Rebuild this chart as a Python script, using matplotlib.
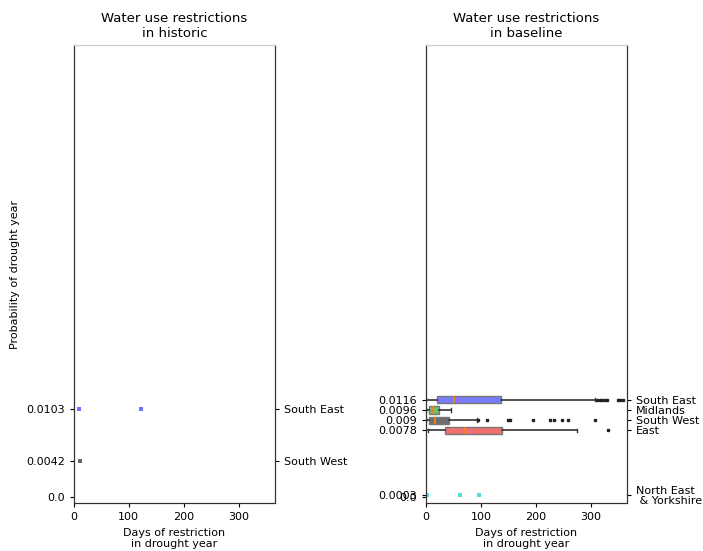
import numpy as np
import matplotlib.pyplot as plt

# historic panel
hist_regions = ['South East', 'South West']
hist_probs = [0.0103, 0.0042]
hist_days = [[10, 122], [12]]
hist_colors = ['#7070ff', '#666666']

# baseline panel (boxes drawn from summary stats)
base_regions = ['South East', 'Midlands', 'South West', 'East']
base_probs = ['0.0116', '0.0096', '0.009', '0.0078']
base_pos = [0.0114, 0.0102, 0.009, 0.0078]
base_colors = ['#7b7bff', '#6fbf6f', '#6e6e6e', '#f07070']
base_q1 = [20, 5, 6, 35]
base_med = [51, 13, 16, 71]
base_q3 = [137, 24, 42, 139]
base_lo = [0, 0, 0, 3]
base_hi = [307, 45, 93, 275]
base_fliers = [
    [312, 316, 320, 326, 330, 350, 354, 358],
    [],
    [95, 111, 150, 153, 195, 226, 233, 247, 258, 308],
    [332],
]

# North East & Yorkshire only has scattered points
ne_label = 'North East\n & Yorkshire'
ne_prob = '0.0003'
ne_pos = 0.0003
ne_days = [1, 62, 97]

ylims = (-0.0007, 0.0529)
xlims = (0, 366)

fig = plt.figure(figsize=(7.03, 5.51), dpi=100)
ax1 = fig.add_axes([0.105, 0.087, 0.286, 0.831])
ax2 = fig.add_axes([0.606, 0.087, 0.286, 0.831])

fs = 8

# ---- historic ----
for days, p, c in zip(hist_days, hist_probs, hist_colors):
    ax1.scatter(days, [p] * len(days), s=7, marker='s', color=c, linewidths=0, zorder=3)
ax1.set_xlim(xlims)
ax1.set_ylim(ylims)
ax1.set_yticks([0.0] + hist_probs[::-1])
ax1.set_yticklabels(['0.0'] + [str(p) for p in hist_probs[::-1]])
ax1.set_title('Water use restrictions\nin historic', fontsize=9.5)
ax1.set_xlabel('Days of restriction\nin drought year', fontsize=fs)
ax1.set_ylabel('Probability of drought year', fontsize=fs)
tw1 = ax1.twinx()
tw1.set_ylim(ylims)
tw1.set_yticks(hist_probs)
tw1.set_yticklabels(hist_regions)

# ---- baseline ----
stats = []
for i in range(len(base_regions)):
    stats.append(dict(med=base_med[i], q1=base_q1[i], q3=base_q3[i],
                      whislo=base_lo[i], whishi=base_hi[i],
                      fliers=base_fliers[i], label=base_regions[i]))
bp = ax2.bxp(stats, positions=base_pos, widths=0.00085, orientation='horizontal',
             patch_artist=True, manage_ticks=False, capwidths=0.0004,
             medianprops=dict(color='#ff7f0e', linewidth=1.2),
             whiskerprops=dict(color='#333333', linewidth=1.2),
             capprops=dict(color='#333333', linewidth=1.0),
             boxprops=dict(edgecolor='#777777', linewidth=1.0),
             flierprops=dict(marker='s', markersize=1.5, markerfacecolor='#222222',
                             markeredgecolor='#222222', linestyle='none'))
for patch, c in zip(bp['boxes'], base_colors):
    patch.set_facecolor(c)
ax2.scatter(ne_days, [ne_pos] * len(ne_days), s=7, marker='s', color='#55dddd',
            linewidths=0, zorder=3)
ax2.set_xlim(xlims)
ax2.set_ylim(ylims)
ax2.set_yticks(base_pos + [ne_pos, 0.0])
ax2.set_yticklabels(base_probs + [ne_prob, '0.0'])
ax2.set_title('Water use restrictions\nin baseline', fontsize=9.5)
ax2.set_xlabel('Days of restriction\nin drought year', fontsize=fs)
tw2 = ax2.twinx()
tw2.set_ylim(ylims)
tw2.set_yticks(base_pos + [ne_pos])
tw2.set_yticklabels(base_regions + [ne_label], linespacing=1.1)

for ax in (ax1, ax2, tw1, tw2):
    ax.tick_params(labelsize=fs, length=3)
    ax.spines['top'].set_color('#cccccc')
    for s in ('left', 'right', 'bottom'):
        ax.spines[s].set_color('#333333')
ax1.set_xticks([0, 100, 200, 300])
ax2.set_xticks([0, 100, 200, 300])

fig.savefig('out.png', dpi=100)
